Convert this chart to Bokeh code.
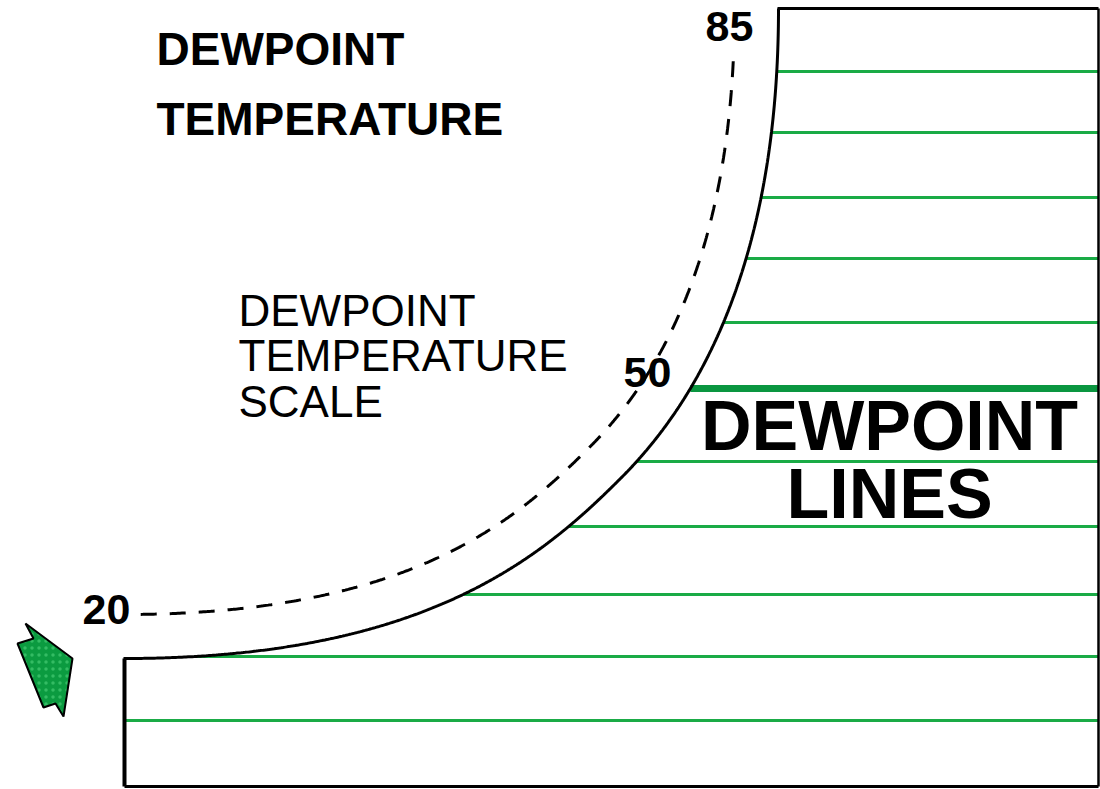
import numpy as np
from bokeh.plotting import figure
from bokeh.models import Range1d
from bokeh.embed import file_html
from bokeh.resources import INLINE
from bokeh.core.properties import value

# ---- data ----
dewpoint_line_y = [71, 132, 197, 258, 322, 461, 526, 594, 656, 720]   # thin dewpoint lines
highlight_line_y = [388]                                               # the 50 line
scale_labels = ["20", "50", "85"]
scale_label_x = [106, 647, 729]
scale_label_y = [625, 388, 42]

# saturation curve: two cubic segments (start, control 1, control 2, end)
seg_x0 = [123, 620]
seg_y0 = [658, 478]
seg_cx0 = [423, 680]
seg_cy0 = [658, 418]
seg_cx1 = [540, 778]
seg_cy1 = [558, 288]
seg_x1 = [620, 778]
seg_y1 = [478, 8]

box_left, box_right, box_top, box_bottom = 124, 1098, 8, 786

arrow_x = [25, 72, 63, 55, 43, 17, 33]
arrow_y = [623, 658, 716, 703, 707, 643, 638]

FONT = value("Liberation Sans")
BASE_SHIFT = 0.38   # baseline correction, fraction of font size


def base(ys, size):
    return [v - BASE_SHIFT * size for v in ys]


p = figure(width=1100, height=789, output_backend="svg", toolbar_location=None,
           x_range=Range1d(0, 1100), y_range=Range1d(789, 0),
           x_axis_location=None, y_axis_location=None, min_border=0)
p.grid.visible = False
p.outline_line_color = None
p.background_fill_color = "white"
p.border_fill_color = "white"

# sample the curve
cx, cy = [], []
t = np.linspace(0, 1, 400)
for i in range(2):
    a = (1 - t) ** 3
    b = 3 * (1 - t) ** 2 * t
    c = 3 * (1 - t) * t ** 2
    d = t ** 3
    cx.append(a * seg_x0[i] + b * seg_cx0[i] + c * seg_cx1[i] + d * seg_x1[i])
    cy.append(a * seg_y0[i] + b * seg_cy0[i] + c * seg_cy1[i] + d * seg_y1[i])
cx = np.concatenate(cx)
cy = np.concatenate(cy)


# green dewpoint lines, starting where they meet the curve
def start_x(yv):
    if yv >= seg_y0[0]:
        return box_left
    return float(np.interp(yv, cy[::-1], cx[::-1]))


thin_x0 = [start_x(v) for v in dewpoint_line_y]
p.segment(x0=thin_x0, y0=dewpoint_line_y, x1=[box_right] * len(dewpoint_line_y),
          y1=dewpoint_line_y, line_color="#1aab46", line_width=2.8)
hi_x0 = [start_x(v) for v in highlight_line_y]
p.segment(x0=hi_x0, y0=highlight_line_y, x1=[box_right] * len(highlight_line_y),
          y1=highlight_line_y, line_color="#0a9640", line_width=7)

# dashed scale curve, parallel to the solid one
dx = np.gradient(cx)
dy = np.gradient(cy)
n = np.hypot(dx, dy)
n[n == 0] = 1
off = 44
ox = cx + off * dy / n
oy = cy - off * dx / n
keep = (ox >= 139) & (oy >= 58)
p.line(ox[keep], oy[keep], line_color="black", line_width=3, line_dash="16 13")

# box outline and curve
p.line(cx, cy, line_color="black", line_width=3)
p.multi_line(xs=[[box_left, box_left], [box_left, box_right], [box_right, box_right], [seg_x1[1] - 1, box_right]],
             ys=[[seg_y0[0], box_bottom], [box_bottom, box_bottom], [box_bottom, box_top], [box_top, box_top]],
             line_color="black", line_width=[4, 3, 2.5, 3])

# arrow
p.patch(arrow_x, arrow_y, fill_color="#0b9b40", line_color="black", line_width=2,
        hatch_pattern="dot", hatch_color="#4fd27a", hatch_scale=7, hatch_alpha=0.6)

# texts
p.text(x=[156, 156], y=base([66, 136], 46), text=["DEWPOINT", "TEMPERATURE"], text_font=FONT,
       text_font_style="bold", text_font_size="46px", text_align="left",
       text_baseline="alphabetic", text_color="black")
p.text(x=[238, 238, 238], y=base([327, 372, 418], 44), text=["DEWPOINT", "TEMPERATURE", "SCALE"],
       text_font=FONT, text_font_style="normal", text_font_size="44px", text_align="left",
       text_baseline="alphabetic", text_color="black")
p.text(x=[889, 889], y=base([452, 520], 70), text=["DEWPOINT", "LINES"], text_font=FONT,
       text_font_style="bold", text_font_size="70px", text_align="center",
       text_baseline="alphabetic", text_color="black")
p.text(x=scale_label_x, y=base(scale_label_y, 43), text=scale_labels, text_font=FONT,
       text_font_style="bold", text_font_size="43px", text_align="center",
       text_baseline="alphabetic", text_color="black")

open("out.html", "w").write(file_html(p, INLINE))
